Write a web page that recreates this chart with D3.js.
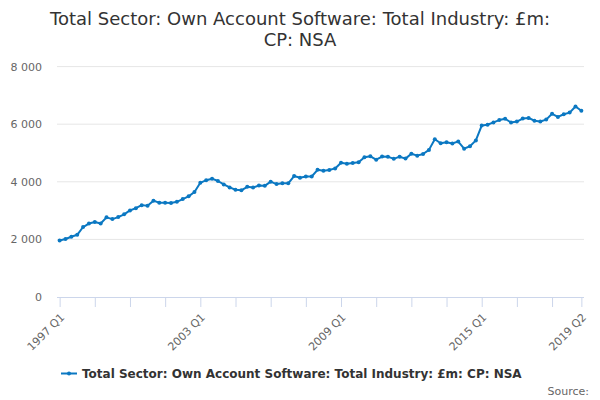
<!DOCTYPE html>
<html>
<head>
<meta charset="utf-8">
<script src="https://cdn.jsdelivr.net/npm/d3@7"></script>
<style>
  html, body { margin: 0; padding: 0; background: #fff; }
  svg { display: block; font-family: "DejaVu Sans", Verdana, sans-serif; }
</style>
</head>
<body>
<div id="chart"></div>
<script>
// Quarterly series, 1997 Q1 to 2019 Q2 (£m)
const startYear = 1997;
const values = [
  1965, 2015, 2090, 2160, 2430, 2550, 2605, 2550,
  2765, 2705, 2775, 2870, 3005, 3085, 3190, 3170,
  3345, 3275, 3275, 3265, 3305, 3400, 3495, 3645,
  3965, 4057, 4108, 4028, 3910, 3805, 3725, 3705,
  3825, 3800, 3870, 3860, 4005, 3920, 3953, 3947,
  4200, 4143, 4183, 4183, 4415, 4380, 4410, 4465,
  4658, 4625, 4652, 4675, 4850, 4885, 4768, 4878,
  4872, 4797, 4872, 4805, 4975, 4908, 4965, 5108,
  5478, 5339, 5374, 5333, 5397, 5150, 5235, 5438,
  5952, 5982, 6062, 6143, 6190, 6058, 6091, 6195,
  6218, 6120, 6092, 6160, 6362, 6252, 6345, 6403,
  6615, 6466
];
const categories = values.map((v, i) =>
  `${startYear + Math.floor(i / 4)} Q${(i % 4) + 1}`);

const yTicks = [0, 2000, 4000, 6000, 8000];
const tickLabels = ['1997 Q1', '2003 Q1', '2009 Q1', '2015 Q1', '2019 Q2'];

const titleLines = ['Total Sector: Own Account Software: Total Industry: £m:', 'CP: NSA'];
const seriesName = 'Total Sector: Own Account Software: Total Industry: £m: CP: NSA';

const width = 600;
const height = 400;
const plot = { left: 57, right: 584, top: 66.6, bottom: 297 };
const lineColor = '#0b78c2';

const svg = d3.select('#chart')
  .append('svg')
  .attr('width', width)
  .attr('height', height);

// Title
svg.append('text')
  .attr('x', width / 2)
  .attr('text-anchor', 'middle')
  .attr('font-size', 18)
  .attr('fill', '#333333')
  .selectAll('tspan')
  .data(titleLines)
  .join('tspan')
  .attr('x', width / 2)
  .attr('y', (d, i) => 25 + i * 21)
  .text(d => d);

const x = d3.scaleLinear()
  .domain([-0.45, values.length - 1 + 0.45])
  .range([plot.left, plot.right]);

const y = d3.scaleLinear()
  .domain([0, 8000])
  .range([plot.bottom, plot.top]);

// Gridlines
svg.append('g')
  .selectAll('line')
  .data(yTicks.filter(d => d > 0))
  .join('line')
  .attr('x1', plot.left)
  .attr('x2', plot.right)
  .attr('y1', d => y(d))
  .attr('y2', d => y(d))
  .attr('stroke', '#e6e6e6')
  .attr('stroke-width', 1);

// Y axis labels
const fmt = d => d3.format(',')(d).replace(/,/g, ' ');
svg.append('g')
  .selectAll('text')
  .data(yTicks)
  .join('text')
  .attr('x', 42)
  .attr('y', d => y(d) + 4)
  .attr('text-anchor', 'end')
  .attr('font-size', 11)
  .attr('fill', '#666666')
  .text(fmt);

// X axis: ticks every 6 quarters plus the last quarter
const tickIdx = d3.range(0, values.length, 6).concat([values.length - 1]);
const xAxis = d3.axisBottom(x)
  .tickValues(tickIdx)
  .tickSize(10)
  .tickSizeOuter(0)
  .tickFormat(i => tickLabels.includes(categories[i]) ? categories[i] : '');

const gx = svg.append('g')
  .attr('transform', `translate(0, ${plot.bottom})`)
  .call(xAxis);

gx.select('.domain').attr('stroke', '#ccd6eb').attr('d', `M${plot.left},0.5H${plot.right}`);
gx.selectAll('.tick line').attr('stroke', '#ccd6eb');
gx.selectAll('.tick text')
  .attr('font-family', '"DejaVu Sans", Verdana, sans-serif')
  .attr('font-size', 11)
  .attr('fill', '#666666')
  .attr('text-anchor', 'end')
  .attr('dy', null)
  .attr('y', 0)
  .attr('transform', 'translate(5, 21) rotate(-45)');

// Line and markers
const line = d3.line()
  .x((d, i) => x(i))
  .y(d => y(d));

svg.append('path')
  .datum(values)
  .attr('d', line)
  .attr('fill', 'none')
  .attr('stroke', lineColor)
  .attr('stroke-width', 2)
  .attr('stroke-linejoin', 'round');

svg.append('g')
  .selectAll('circle')
  .data(values)
  .join('circle')
  .attr('cx', (d, i) => x(i))
  .attr('cy', d => y(d))
  .attr('r', 2)
  .attr('fill', lineColor);

// Legend
const legend = svg.append('g').attr('transform', 'translate(61, 373.5)');
legend.append('line')
  .attr('x1', 0).attr('x2', 16)
  .attr('stroke', lineColor)
  .attr('stroke-width', 2);
legend.append('circle')
  .attr('cx', 8).attr('r', 2)
  .attr('fill', lineColor);
legend.append('text')
  .attr('x', 21)
  .attr('y', 4.5)
  .attr('font-size', 12)
  .attr('font-weight', 'bold')
  .attr('fill', '#333333')
  .text(seriesName);

// Credits
svg.append('text')
  .attr('x', 589)
  .attr('y', 395)
  .attr('text-anchor', 'end')
  .attr('font-size', 11)
  .attr('fill', '#666666')
  .text('Source:');
</script>
</body>
</html>
